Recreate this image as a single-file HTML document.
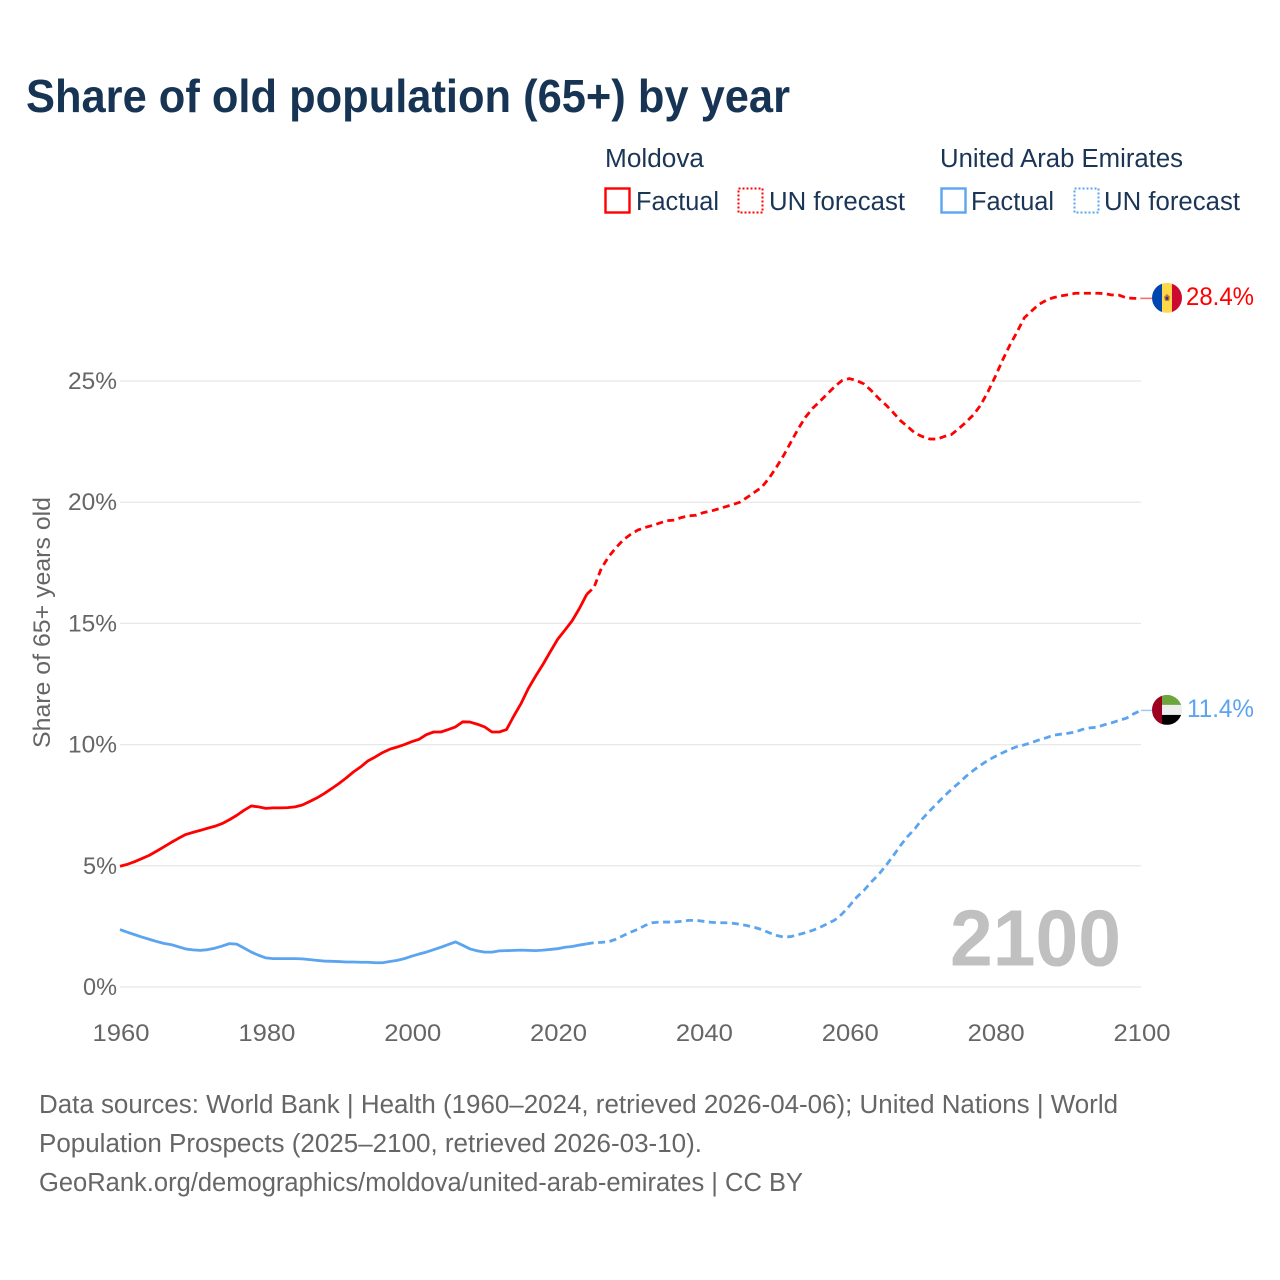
<!DOCTYPE html>
<html lang="en">
<head>
<meta charset="utf-8">
<title>Share of old population (65+) by year</title>
<style>
html,body{margin:0;padding:0;background:#fff;}
svg{display:block;font-family:"Liberation Sans",sans-serif;}
</style>
</head>
<body>
<svg id="chart" xmlns="http://www.w3.org/2000/svg" width="1280" height="1280" viewBox="0 0 1280 1280">
  <rect width="1280" height="1280" fill="#ffffff"/>
  <text x="26" y="112" font-size="46" font-weight="700" fill="#173454" textLength="764" lengthAdjust="spacingAndGlyphs">Share of old population (65+) by year</text>

  <g font-size="25.5" fill="#1a3556">
    <text x="605" y="167" textLength="99" lengthAdjust="spacingAndGlyphs">Moldova</text>
    <text x="940" y="167" textLength="243" lengthAdjust="spacingAndGlyphs">United Arab Emirates</text>
    <rect x="605.5" y="188.5" width="24" height="24" fill="none" stroke="#ff0000" stroke-width="2.4"/>
    <text x="636" y="210" textLength="83" lengthAdjust="spacingAndGlyphs">Factual</text>
    <rect x="738.5" y="188.5" width="24" height="24" fill="none" stroke="#ff0000" stroke-width="2" stroke-dasharray="2 2"/>
    <text x="769" y="210" textLength="136" lengthAdjust="spacingAndGlyphs">UN forecast</text>
    <rect x="941.5" y="188.5" width="24" height="24" fill="none" stroke="#5ba4ef" stroke-width="2.4"/>
    <text x="971" y="210" textLength="83" lengthAdjust="spacingAndGlyphs">Factual</text>
    <rect x="1074.5" y="188.5" width="24" height="24" fill="none" stroke="#5ba4ef" stroke-width="2" stroke-dasharray="2 2"/>
    <text x="1104" y="210" textLength="136" lengthAdjust="spacingAndGlyphs">UN forecast</text>
  </g>

  <text transform="translate(50 622.5) rotate(-90)" text-anchor="middle" font-size="24.5" fill="#666666" textLength="251" lengthAdjust="spacingAndGlyphs">Share of 65+ years old</text>

  <g id="grid"></g>
  <g id="yticks"></g>
  <g id="xticks"></g>

  <text x="950" y="965.5" font-size="80" font-weight="700" fill="#c0c0c0" textLength="171" lengthAdjust="spacingAndGlyphs">2100</text>

  <g id="series"></g>

  <defs>
    <clipPath id="flag-clip"><circle cx="0" cy="0" r="15"/></clipPath>
  </defs>
  <g id="flag-moldova">
    <g clip-path="url(#flag-clip)">
      <rect x="-15" y="-15" width="10" height="30" fill="#0046ae"/>
      <rect x="-5" y="-15" width="10" height="30" fill="#ffd84a"/>
      <rect x="5" y="-15" width="10" height="30" fill="#cc092f"/>
      <polygon points="0,-4 3,-1 2,3 -2,3 -3,-1" fill="#c8742a"/>
      <rect x="-1.2" y="-1" width="2.4" height="3" fill="#1c3f94"/>
    </g>
  </g>
  <g id="flag-uae">
    <g clip-path="url(#flag-clip)">
      <rect x="-15" y="-15" width="30" height="10" fill="#6ba53c"/>
      <rect x="-15" y="-5" width="30" height="10" fill="#eeeeee"/>
      <rect x="-15" y="5" width="30" height="10" fill="#000000"/>
      <rect x="-15" y="-15" width="10" height="30" fill="#a00020"/>
    </g>
  </g>
  <text id="value-moldova" x="1186" font-size="25" fill="#ff0000" textLength="68" lengthAdjust="spacingAndGlyphs"></text>
  <text id="value-uae" x="1187" font-size="25" fill="#5ba4ef" textLength="67" lengthAdjust="spacingAndGlyphs"></text>

  <g font-size="25.5" fill="#666666">
    <text x="39" y="1113" textLength="1079" lengthAdjust="spacingAndGlyphs">Data sources: World Bank | Health (1960–2024, retrieved 2026-04-06); United Nations | World</text>
    <text x="39" y="1152" textLength="663" lengthAdjust="spacingAndGlyphs">Population Prospects (2025–2100, retrieved 2026-03-10).</text>
    <text x="39" y="1191" textLength="764" lengthAdjust="spacingAndGlyphs">GeoRank.org/demographics/moldova/united-arab-emirates | CC BY</text>
  </g>
</svg>
<script>
const xTickYears = [1960, 1980, 2000, 2020, 2040, 2060, 2080, 2100];
const yTickValues = [0, 5, 10, 15, 20, 25];
const factualStartYear = 1960;
const forecastStartYear = 2024;
const moldovaFactual = [4.98,5.06,5.17,5.3,5.43,5.6,5.78,5.96,6.13,6.29,6.38,6.46,6.55,6.63,6.74,6.9,7.08,7.29,7.47,7.43,7.37,7.39,7.39,7.4,7.43,7.51,7.65,7.8,7.98,8.18,8.39,8.62,8.87,9.08,9.33,9.49,9.67,9.81,9.9,10.0,10.12,10.22,10.41,10.52,10.52,10.62,10.73,10.94,10.93,10.84,10.73,10.52,10.52,10.62,11.18,11.7,12.32,12.83,13.31,13.83,14.34,14.72,15.11,15.62,16.2];
const moldovaForecast = [16.2,16.49,17.27,17.75,18.12,18.44,18.67,18.85,18.96,19.04,19.14,19.24,19.26,19.37,19.44,19.46,19.57,19.63,19.72,19.81,19.9,20.0,20.2,20.41,20.62,20.99,21.44,21.93,22.48,23.03,23.51,23.88,24.17,24.47,24.77,25.02,25.1,25.02,24.88,24.61,24.29,24.02,23.71,23.37,23.12,22.85,22.71,22.61,22.6,22.71,22.79,23.03,23.3,23.6,24.0,24.55,25.17,25.85,26.47,27.02,27.61,27.89,28.16,28.33,28.44,28.51,28.56,28.62,28.62,28.62,28.62,28.61,28.55,28.54,28.43,28.41,28.41];
const uaeFactual = [2.37,2.26,2.16,2.06,1.97,1.88,1.8,1.75,1.66,1.57,1.53,1.51,1.54,1.6,1.69,1.79,1.77,1.61,1.44,1.31,1.2,1.17,1.17,1.17,1.17,1.16,1.13,1.1,1.07,1.06,1.05,1.03,1.03,1.02,1.02,1.0,1.0,1.05,1.1,1.17,1.27,1.36,1.44,1.54,1.64,1.75,1.86,1.72,1.57,1.49,1.44,1.44,1.49,1.5,1.51,1.52,1.51,1.5,1.52,1.55,1.58,1.64,1.67,1.73,1.78];
const uaeForecast = [1.78,1.83,1.84,1.87,1.97,2.12,2.26,2.38,2.54,2.65,2.68,2.68,2.68,2.71,2.75,2.75,2.71,2.67,2.65,2.65,2.63,2.59,2.53,2.46,2.37,2.24,2.13,2.06,2.08,2.16,2.24,2.34,2.46,2.61,2.76,3.01,3.34,3.7,3.98,4.33,4.63,5.0,5.4,5.83,6.21,6.53,6.93,7.26,7.56,7.87,8.15,8.41,8.69,8.93,9.15,9.35,9.51,9.66,9.8,9.92,9.99,10.08,10.19,10.28,10.39,10.43,10.47,10.52,10.63,10.69,10.72,10.82,10.9,11.0,11.09,11.27,11.41];

const NS = 'http://www.w3.org/2000/svg';
const xScale = year => 120 + (year - 1960) * (1141 - 120) / 140;
const yScale = pct => 987 - pct * (987 - 381) / 25;

function seriesPath(values, startYear) {
  return values.map((v, i) => (i ? 'L' : 'M') + xScale(startYear + i).toFixed(2) + ' ' + yScale(v).toFixed(2)).join(' ');
}
function addLine(parent, values, startYear, color, dashed) {
  const p = document.createElementNS(NS, 'path');
  p.setAttribute('d', seriesPath(values, startYear));
  p.setAttribute('fill', 'none');
  p.setAttribute('stroke', color);
  p.setAttribute('stroke-width', '2.8');
  p.setAttribute('stroke-linejoin', 'round');
  if (dashed) p.setAttribute('stroke-dasharray', '7 4.5');
  parent.appendChild(p);
  return p;
}

const grid = document.getElementById('grid');
const yticks = document.getElementById('yticks');
yTickValues.forEach(v => {
  const y = yScale(v);
  const line = document.createElementNS(NS, 'line');
  
  
  line.setAttribute('x1', 120);
  line.setAttribute('x2', 1141);
  line.setAttribute('y1', y);
  line.setAttribute('y2', y);
  line.setAttribute('stroke', '#e8e8e8');
  line.setAttribute('stroke-width', '1.3');
  grid.appendChild(line);
  const t = document.createElementNS(NS, 'text');
  
  
  const w = v === 0 ? 34 : (v === 5 ? 34 : 49);
  t.setAttribute('x', 117 - w);
  t.setAttribute('y', y + 8);
  t.setAttribute('font-size', '24.5');
  t.setAttribute('fill', '#666666');
  t.setAttribute('textLength', w);
  t.setAttribute('lengthAdjust', 'spacingAndGlyphs');
  t.textContent = v + '%';
  yticks.appendChild(t);
});

const xticks = document.getElementById('xticks');
xTickYears.forEach(year => {
  const t = document.createElementNS(NS, 'text');
  
  
  t.setAttribute('x', xScale(year) - 27.5);
  t.setAttribute('y', 1041);
  t.setAttribute('font-size', '24.5');
  t.setAttribute('fill', '#666666');
  t.setAttribute('textLength', 57);
  t.setAttribute('lengthAdjust', 'spacingAndGlyphs');
  t.textContent = year;
  xticks.appendChild(t);
});

const series = document.getElementById('series');
const lineUaeFactual = addLine(series, uaeFactual, factualStartYear, '#5ba4ef', false);


const lineUaeForecast = addLine(series, uaeForecast, forecastStartYear, '#5ba4ef', true);


const lineMoldovaFactual = addLine(series, moldovaFactual, factualStartYear, '#ff0000', false);


const lineMoldovaForecast = addLine(series, moldovaForecast, forecastStartYear, '#ff0000', true);



function placeEnd(values, color, flagId, labelId) {
  const last = values[values.length - 1];
  const y = yScale(last);
  const c = document.createElementNS(NS, 'line');
  
  
  c.setAttribute('x1', xScale(2100));
  c.setAttribute('x2', 1152);
  c.setAttribute('y1', y);
  c.setAttribute('y2', y);
  c.setAttribute('stroke', color);
  c.setAttribute('stroke-width', '1.5');
  c.setAttribute('stroke-opacity', '0.6');
  series.appendChild(c);
  document.getElementById(flagId).setAttribute('transform', 'translate(1167 ' + (y - 0.5) + ')');
  const label = document.getElementById(labelId);
  label.setAttribute('y', y + 6.5);
  label.textContent = last.toFixed(1) + '%';
}
placeEnd(moldovaForecast, '#ff0000', 'flag-moldova', 'value-moldova');
placeEnd(uaeForecast, '#5ba4ef', 'flag-uae', 'value-uae');
</script>
</body>
</html>
